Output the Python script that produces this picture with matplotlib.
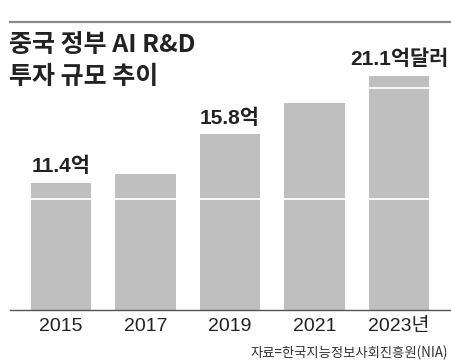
import matplotlib
matplotlib.use("Agg")
import matplotlib.pyplot as plt

KR = "Noto Sans CJK KR"
NUM = "Liberation Sans"
plt.rcParams['font.family'] = [NUM, KR, 'DejaVu Sans']

years = ["2015", "2017", "2019", "2021", "2023년"]
values = [11.4, 12.2, 15.8, 18.6, 21.1]
labels = ["11.4억", "", "15.8억", "", "21.1억달러"]
title_lines = ["중국 정부 AI R&D", "투자 규모 추이"]
source = "자료=한국지능정보사회진흥원(NIA)"

W, H = 451, 363
fig = plt.figure(figsize=(W/100, H/100), dpi=100)
base = 310
top = 32
ax = fig.add_axes([10/W, (H-base)/H, (W-10)/W, (base-top)/H])
x = list(range(len(years)))
ax.bar(x, values, width=0.72, color="#bfbfbf", zorder=2)
ax.set_xlim(-0.604, 4.615)
ax.set_ylim(0, (base-top)/11.11)
for g in [10, 20]:
    ax.axhline(g, color="white", lw=1.3, zorder=3)
for s in ["top", "right", "left"]:
    ax.spines[s].set_visible(False)
ax.spines["bottom"].set_color("#555555")
ax.spines["bottom"].set_linewidth(1.0)
ax.set_yticks([])
ax.set_xticks(x)
ax.set_xticklabels(years, fontsize=14, color="#222222")
ax.tick_params(axis="x", length=0, pad=6)
for xi, v, lab in zip(x, values, labels):
    if lab:
        ax.annotate(lab, (xi, v), xytext=(0, 5), textcoords="offset points",
                    ha="center", va="bottom", fontsize=15, fontweight="bold",
                    color="#222222", family=[NUM, KR])

fig.add_artist(plt.Line2D([10/W, 1], [(H-22)/H]*2, color="#8a8a8a", lw=1.6))
fig.text(9/W, (H-45)/H, title_lines[0], fontsize=18, fontweight="bold",
         color="#222222", va="center", ha="left", family=[KR])
fig.text(9/W, (H-77)/H, title_lines[1], fontsize=18, fontweight="bold",
         color="#222222", va="center", ha="left", family=[KR])
fig.text(448/W, (H-353)/H, source, fontsize=9.6, color="#333333",
         va="center", ha="right", family=[KR])

fig.savefig("out.png", dpi=100)
